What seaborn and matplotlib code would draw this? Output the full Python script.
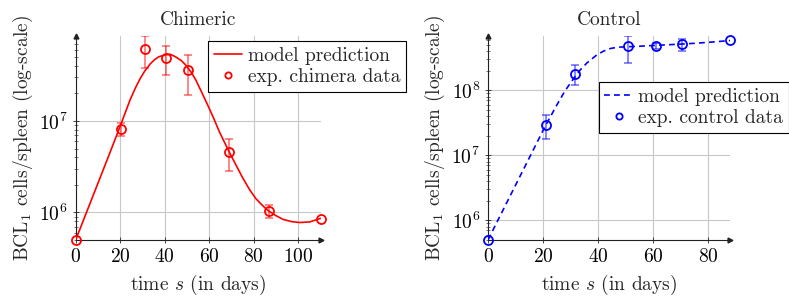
import matplotlib
matplotlib.use("Agg")
import matplotlib.pyplot as plt
import matplotlib.ticker as mticker
import numpy as np
import pandas as pd
import seaborn as sns

# ---- data ----
# chimeric panel
chim_model_days = [0, 5, 10, 15, 18.5, 20.7, 24.5, 27, 29, 31, 33.5, 35.5, 37.3, 40,
                   42.5, 45, 47.5, 49.5, 52, 54, 56.5, 59.3, 62, 64.6, 68.9, 72, 75,
                   78.3, 81, 84, 86.2, 90, 93.2, 97, 100.7, 105.2, 110]
chim_model_log = [5.70, 6.01, 6.32, 6.63, 6.85, 6.99, 7.235, 7.37, 7.465, 7.545,
                  7.625, 7.672, 7.702, 7.722, 7.73, 7.70, 7.66, 7.61, 7.53, 7.447,
                  7.32, 7.175, 7.03, 6.88, 6.665, 6.52, 6.38, 6.243, 6.15, 6.075,
                  6.025, 5.965, 5.924, 5.90, 5.89, 5.897, 5.935]
chim_days = [0, 20.5, 31, 40.5, 50.5, 69, 87, 110]
chim_cells = [5e5, 8.2e6, 6.15e7, 4.87e7, 3.62e7, 4.57e6, 1.04e6, 8.4e5]
chim_err = [0, 1.4e6, 2.35e7, 1.7e7, 1.7e7, 1.75e6, 1.8e5, 0]

# control panel
ctrl_model_days = [0, 5, 10, 15, 20, 22, 25, 28, 31, 33.5, 36, 39.5, 42, 44.5, 47,
                   50, 55, 60, 65, 70, 75, 80, 85, 88]
ctrl_model_log = [5.70, 6.12, 6.54, 6.96, 7.38, 7.54, 7.77, 7.99, 8.17, 8.31, 8.42,
                  8.54, 8.60, 8.64, 8.66, 8.666, 8.675, 8.686, 8.697, 8.708, 8.72,
                  8.735, 8.752, 8.763]
ctrl_days = [0, 21, 31.7, 51, 61, 70.4, 88]
ctrl_cells = [5e5, 2.95e7, 1.8e8, 4.7e8, 4.8e8, 5.06e8, 5.9e8]
ctrl_err = [0, 1.15e7, 0.6e8, 2.1e8, 0.5e8, 1.05e8, 0]

sns.set_style("ticks")
plt.rcParams["font.family"] = ["cmr10", "DejaVu Serif"]
plt.rcParams["mathtext.fontset"] = "cm"
plt.rcParams["axes.formatter.use_mathtext"] = True
plt.rcParams["font.size"] = 14

fig = plt.figure(figsize=(7.89, 3.02), dpi=100)
ax1 = fig.add_axes([75.7 / 789, 62 / 302, 244.8 / 789, 204 / 302])
ax2 = fig.add_axes([488 / 789, 62 / 302, 242 / 789, 204 / 302])


def panel(ax, mdays, mlog, days, cells, err, color, ls, title, data_label, xlim, ylim,
          xticks, leg_anchor):
    model = pd.DataFrame({"s": mdays, "cells": 10 ** np.array(mlog)})
    sns.lineplot(data=model, x="s", y="cells", ax=ax, color=color, linestyle=ls,
                 linewidth=1.2, label="model prediction", zorder=3)
    ax.lines[-1].set_solid_joinstyle("round")
    d = pd.DataFrame({"s": days, "cells": cells, "err": err})
    e = d[d["err"] > 0]
    ax.errorbar(e["s"], e["cells"], yerr=e["err"], fmt="none", ecolor=color,
                alpha=0.55, elinewidth=1.2, capsize=2.8, capthick=1.2, zorder=3)
    ax.plot(d["s"], d["cells"], "o", mfc="none", mec=color, mew=1.3, ms=6.5,
            label=data_label, zorder=4, clip_on=False)
    ax.set_yscale("log")
    ax.set_xlim(*xlim)
    ax.set_ylim(*ylim)
    ax.set_xticks(xticks)
    ax.yaxis.set_major_locator(mticker.LogLocator(base=10))
    ax.yaxis.set_minor_locator(mticker.LogLocator(base=10, subs=np.arange(2, 10)))
    ax.yaxis.set_minor_formatter(mticker.NullFormatter())
    ax.grid(True, which="major", color="#c8c8c8", linewidth=0.8)
    ax.set_axisbelow(True)
    for side in ["top", "right"]:
        ax.spines[side].set_visible(False)
    for side in ["left", "bottom"]:
        ax.spines[side].set_color("#222222")
        ax.spines[side].set_linewidth(0.8)
    ax.tick_params(which="major", direction="inout", length=5, width=0.6,
                   colors="#222222", labelcolor="black", labelsize=14, pad=3)
    ax.tick_params(which="minor", direction="inout", length=3, width=0.5,
                   colors="#444444")
    ax.plot(1, 0, ">", color="#222222", ms=3.5, transform=ax.transAxes, clip_on=False)
    ax.plot(0, 1, "^", color="#222222", ms=3.5, transform=ax.transAxes, clip_on=False)
    ax.set_title(title, fontsize=14, pad=8)
    ax.set_xlabel("time $s$ (in days)", fontsize=14, labelpad=5)
    ax.set_ylabel("BCL$_1$ cells/spleen (log-scale)", fontsize=14, labelpad=3)
    leg = ax.legend(loc="upper left", bbox_to_anchor=leg_anchor, fontsize=14,
                    frameon=True, fancybox=False, framealpha=1, edgecolor="black",
                    handlelength=1.45, borderpad=0.3, labelspacing=0.15,
                    handletextpad=0.3, borderaxespad=0)
    leg.get_frame().set_linewidth(0.8)
    leg.legend_handles[1].set_markersize(4.5)


panel(ax1, chim_model_days, chim_model_log, chim_days, chim_cells, chim_err,
      "red", "-", "Chimeric", "exp. chimera data", (0, 110), (5e5, 8.5e7),
      [0, 20, 40, 60, 80, 100], (0.541, 0.975))
panel(ax2, ctrl_model_days, ctrl_model_log, ctrl_days, ctrl_cells, ctrl_err,
      "blue", (0, (3.5, 2.5)), "Control", "exp. control data", (0, 88),
      (5e5, 6.8e8), [0, 20, 40, 60, 80], (0.457, 0.773))

fig.savefig("out.png", dpi=100)
